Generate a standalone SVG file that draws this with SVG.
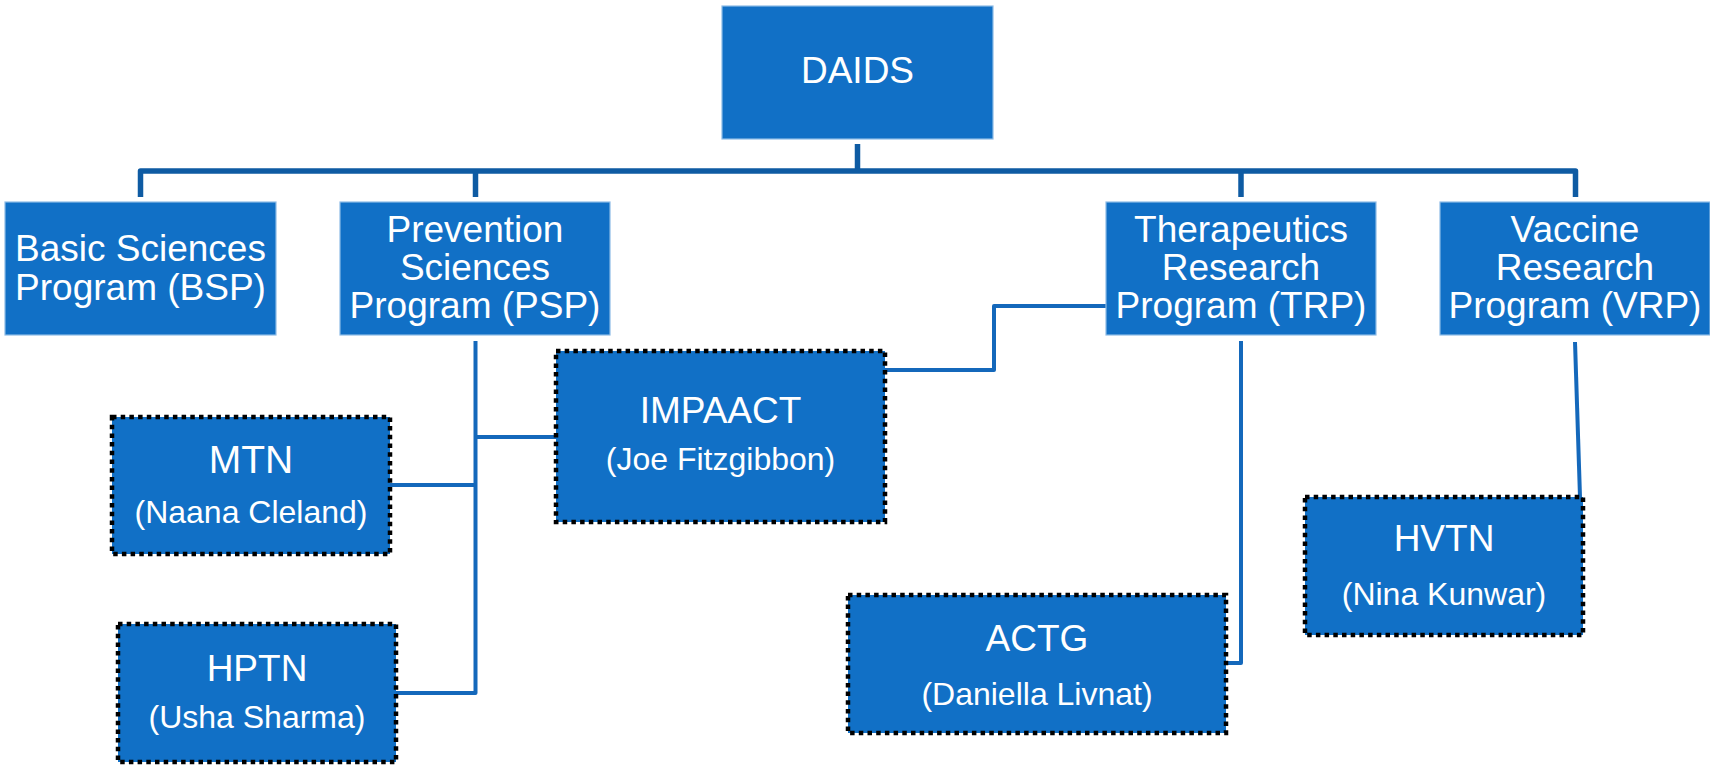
<svg xmlns="http://www.w3.org/2000/svg" width="1710" height="765" viewBox="0 0 1710 765">
  <style>
    .box { fill: #1170c6; stroke: #8dbbe6; stroke-width: 1.2; }
    .dot { fill: #1170c6; stroke: #000; stroke-width: 4.5; stroke-dasharray: 4.5 4.2; }
    .t { font-family: "Liberation Sans", Arial, sans-serif; fill: #ffffff; text-anchor: middle; font-size: 37px; }
    .s { font-family: "Liberation Sans", Arial, sans-serif; fill: #ffffff; text-anchor: middle; font-size: 32px; }
    .bus { fill: none; stroke: #0e5ba3; stroke-width: 5.5; stroke-linejoin: round; }
    .ln { fill: none; stroke: #1468bb; stroke-width: 4; stroke-linejoin: round; }
  </style>
  <rect width="1710" height="765" fill="#ffffff"/>
  <g id="connectors">
    <path class="bus" d="M857.5 144 V171"/>
    <path class="bus" d="M140.5 197 V171 H1575.5 V197"/>
    <path class="bus" d="M475.5 171 V197"/>
    <path class="bus" d="M1241 171 V197"/>
    <path class="ln" d="M475.5 341 V693 H396"/>
    <path class="ln" d="M475.5 485 H390"/>
    <path class="ln" d="M475.5 437 H556"/>
    <path class="ln" d="M1241 341 V663 H1226"/>
    <path class="ln" d="M885 370 H994 V306 H1106"/>
    <path class="ln" d="M1575 342 L1580 497"/>
  </g>
  <g id="daids">
    <rect class="box" x="722" y="6" width="271" height="133"/>
    <text class="t" x="857.5" y="83">DAIDS</text>
  </g>
  <g id="bsp">
    <rect class="box" x="5" y="202" width="271" height="133"/>
    <text class="t" x="140.5" y="261">Basic Sciences</text>
    <text class="t" x="140.5" y="300">Program (BSP)</text>
  </g>
  <g id="psp">
    <rect class="box" x="340" y="202" width="270" height="133"/>
    <text class="t" x="475" y="242">Prevention</text>
    <text class="t" x="475" y="280">Sciences</text>
    <text class="t" x="475" y="318">Program (PSP)</text>
  </g>
  <g id="trp">
    <rect class="box" x="1106" y="202" width="270" height="133"/>
    <text class="t" x="1241" y="242">Therapeutics</text>
    <text class="t" x="1241" y="280">Research</text>
    <text class="t" x="1241" y="318">Program (TRP)</text>
  </g>
  <g id="vrp">
    <rect class="box" x="1440" y="202" width="270" height="133"/>
    <text class="t" x="1575" y="242">Vaccine</text>
    <text class="t" x="1575" y="280">Research</text>
    <text class="t" x="1575" y="318">Program (VRP)</text>
  </g>
  <g id="mtn">
    <rect class="dot" x="112" y="417" width="278" height="137"/>
    <text class="t" x="251" y="473" style="font-size:39px">MTN</text>
    <text class="s" x="251" y="523">(Naana Cleland)</text>
  </g>
  <g id="hptn">
    <rect class="dot" x="118" y="624" width="278" height="138"/>
    <text class="t" x="257" y="681">HPTN</text>
    <text class="s" x="257" y="728">(Usha Sharma)</text>
  </g>
  <g id="impaact">
    <rect class="dot" x="556" y="351" width="329" height="171"/>
    <text class="t" x="720.5" y="423">IMPAACT</text>
    <text class="s" x="720.5" y="470">(Joe Fitzgibbon)</text>
  </g>
  <g id="actg">
    <rect class="dot" x="848" y="595" width="378" height="138"/>
    <text class="t" x="1037" y="651">ACTG</text>
    <text class="s" x="1037" y="705">(Daniella Livnat)</text>
  </g>
  <g id="hvtn">
    <rect class="dot" x="1305" y="497" width="278" height="138"/>
    <text class="t" x="1444" y="551">HVTN</text>
    <text class="s" x="1444" y="605">(Nina Kunwar)</text>
  </g>
</svg>
